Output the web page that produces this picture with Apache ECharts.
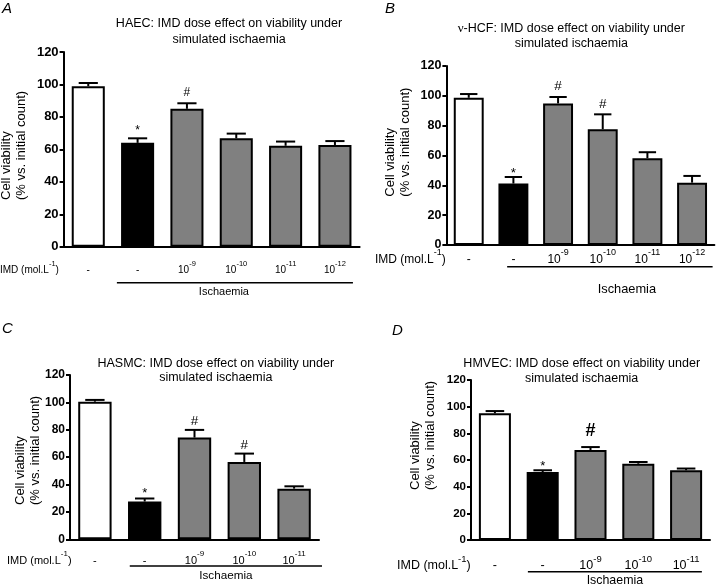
<!DOCTYPE html>
<html>
<head>
<meta charset="UTF-8">
<title>IMD dose effect on viability</title>
<script src="https://cdn.jsdelivr.net/npm/echarts@6/dist/echarts.min.js"></script>
<style>
  html, body { margin: 0; padding: 0; background: #fff; }
  #main { width: 720px; height: 584px; }
</style>
</head>
<body>
<div id="main"></div>
<script>
// ---- values ----
var catsA = ['-', '-', '10^-9', '10^-10', '10^-11', '10^-12'];
var valsA = [98.9, 64, 85, 66.8, 62.2, 62.7];
var errA = [2, 2.8, 3.4, 2.9, 2.6, 2.4];
var marksA = ['', '*', '#', '', '', ''];

var catsB = ['-', '-', '10^-9', '10^-10', '10^-11', '10^-12'];
var valsB = [98.7, 41.2, 94.9, 77.6, 58.2, 41.8];
var errB = [2.5, 4.4, 4.3, 10, 4, 4.5];
var marksB = ['', '*', '#', '#', '', ''];

var catsC = ['-', '-', '10^-9', '10^-10', '10^-11'];
var valsC = [100.5, 27.6, 74.3, 56.5, 37];
var errC = [1.3, 2.2, 5.6, 6.1, 1.7];
var marksC = ['', '*', '#', '#', ''];

var catsD = ['-', '-', '10^-9', '10^-10', '10^-11'];
var valsD = [95, 51, 67.5, 57.2, 52.3];
var errD = [1.7, 1.3, 2.2, 1.3, 1.3];
var marksD = ['', '*', '#', '', ''];

var yTicks = [0, 20, 40, 60, 80, 100, 120];
var barColors = ['#ffffff', '#000000', '#808080', '#808080', '#808080', '#808080'];

var titleA = 'HAEC: IMD dose effect on viability under\nsimulated ischaemia';
var titleB = '{g|ν}-HCF: IMD dose effect on viability under\nsimulated ischaemia';
var titleC = 'HASMC: IMD dose effect on viability under\nsimulated ischaemia';
var titleD = 'HMVEC: IMD dose effect on viability under\nsimulated ischaemia';
var yName = 'Cell viability\n(% vs. initial count)';

// ---- layout per panel (pixels) ----
var FONT = 'Liberation Sans, Arial, Helvetica, sans-serif';

var layA = {grid: {left: 63.6, top: 52, width: 296, height: 194.7}, barFrac: 0.67,
  tickFont: 13, catFont: 10, supFont: 7.5, labelMargin: 13,
  letter: [2, 1], title: [229, 31.3, 16], yName: [14, 200], imdX: 0,
  line: [-0.42, 0.365, 36], ischDy: 9, ischFont: 11, ischDx: -11,
  markSize: 12, starGap: 10, hashGap: 10.5, hashSize: 12, hashBold: false};
var layB = {grid: {left: 446.4, top: 66, width: 268, height: 179}, barFrac: 0.67,
  tickFont: 12.5, catFont: 12, supFont: 9, labelMargin: 3,
  letter: [385, 1], title: [571.3, 35.8, 15], yName: [398, 196.7], imdX: 375,
  line: [-0.14, 0.46, 21.7], ischDy: 22.6, ischFont: 12.8, ischDx: 17,
  markSize: 13.5, starGap: 7, hashGap: 10.5, hashSize: 13.5, hashBold: false};
var layC = {grid: {left: 70, top: 375, width: 249, height: 164.3}, barFrac: 0.67,
  tickFont: 12, catFont: 11, supFont: 8, labelMargin: 10.5,
  letter: [2, 321], title: [215.8, 370.3, 14], yName: [27.5, 505], imdX: 7,
  line: [-0.30, 0.56, 26.7], ischDy: 10, ischFont: 11.7, ischDx: 0,
  markSize: 13, starGap: 7.7, hashGap: 8.3, hashSize: 13.5, hashBold: false};
var layD = {grid: {left: 471, top: 380, width: 239, height: 160}, barFrac: 0.67,
  tickFont: 11.5, catFont: 12.5, supFont: 9.5, labelMargin: 14,
  letter: [392, 323], title: [581.7, 370.8, 15], yName: [423, 490], imdX: 397,
  line: [-0.31, 0.33, 31.7], ischDy: 9, ischFont: 12.4, ischDx: 0,
  markSize: 13, starGap: 6.6, hashGap: 16, hashSize: 18, hashBold: true};

var panels = [
  {cats: catsA, vals: valsA, err: errA, marks: marksA, title: titleA, letter: 'A', lay: layA},
  {cats: catsB, vals: valsB, err: errB, marks: marksB, title: titleB, letter: 'B', lay: layB},
  {cats: catsC, vals: valsC, err: errC, marks: marksC, title: titleC, letter: 'C', lay: layC},
  {cats: catsD, vals: valsD, err: errD, marks: marksD, title: titleD, letter: 'D', lay: layD}
];

// "10^-9" -> 10 with a raised -9
function supText(s) {
  var p = s.split('^');
  return p.length > 1 ? '{b|' + p[0] + '}{s|' + p[1] + '}' : '{b|' + s + '}';
}
function supRich(L, key) {
  var r = {b: {fontSize: L.catFont, lineHeight: L.catFont + 6, verticalAlign: 'bottom', fontFamily: FONT},
           s: {fontSize: L.supFont, lineHeight: L.supFont, verticalAlign: 'top', fontFamily: FONT}};
  r.b[key] = '#000'; r.s[key] = '#000';
  return r;
}

// error bar (upper half only) + significance mark
function makeErr(p) {
  var L = p.lay;
  return function (params, api) {
    var i = api.value(0), v = api.value(1), e = api.value(2);
    var b = api.coord([i, v]), t = api.coord([i, v + e]);
    var cw = api.size([1, 0])[0] * L.barFrac * 0.58;
    var kids = [
      {type: 'line', shape: {x1: b[0], y1: b[1], x2: t[0], y2: t[1]}, style: {stroke: '#000', lineWidth: 2}},
      {type: 'line', shape: {x1: t[0] - cw / 2, y1: t[1], x2: t[0] + cw / 2, y2: t[1]}, style: {stroke: '#000', lineWidth: 2}}
    ];
    var m = p.marks[params.dataIndex];
    if (m) {
      var star = m === '*';
      var fs = star ? L.markSize : L.hashSize;
      var gap = star ? L.starGap : L.hashGap;
      kids.push({type: 'text', style: {
        text: m, x: t[0], y: t[1] - gap + (star ? 0.22 * fs : 0),
        align: 'center', verticalAlign: 'middle', fontSize: fs,
        fontWeight: (!star && L.hashBold) ? 'bold' : 'normal', fontFamily: FONT, fill: '#000'}});
    }
    return {type: 'group', children: kids};
  };
}

var chart = echarts.init(document.getElementById('main'));
var option = {
  animation: false,
  textStyle: {fontFamily: FONT, color: '#000'},
  grid: [], xAxis: [], yAxis: [], series: []
};

panels.forEach(function (p, k) {
  var L = p.lay;
  option.grid.push({left: L.grid.left, top: L.grid.top, width: L.grid.width, height: L.grid.height,
    containLabel: false, outerBoundsMode: 'none'});
  option.xAxis.push({
    type: 'category', gridIndex: k, data: p.cats,
    axisLine: {lineStyle: {color: '#000', width: 2}},
    axisTick: {alignWithLabel: true, length: 4, lineStyle: {color: '#000', width: 1.5}},
    axisLabel: {interval: 0, margin: L.labelMargin, formatter: supText, rich: supRich(L, 'color')},
    splitLine: {show: false}
  });
  option.yAxis.push({
    type: 'value', gridIndex: k,
    min: yTicks[0], max: yTicks[yTicks.length - 1], interval: yTicks[1] - yTicks[0],
    axisLine: {show: true, lineStyle: {color: '#000', width: 2}},
    axisTick: {show: true, length: 4, lineStyle: {color: '#000', width: 2}},
    axisLabel: {fontSize: L.tickFont, fontWeight: 'bold', color: '#000', margin: 5},
    splitLine: {show: false}
  });
  option.series.push({
    type: 'bar', xAxisIndex: k, yAxisIndex: k, silent: true,
    barWidth: (L.barFrac * 100) + '%',
    itemStyle: {borderColor: '#000', borderWidth: 2},
    data: p.vals.map(function (v, i) { return {value: v, itemStyle: {color: barColors[i]}}; })
  });
  option.series.push({
    type: 'custom', xAxisIndex: k, yAxisIndex: k, silent: true, z: 5,
    encode: {x: 0, y: 1},
    data: p.vals.map(function (v, i) { return [i, v, p.err[i]]; }),
    renderItem: makeErr(p)
  });
});

chart.setOption(option);

// texts and the "Ischaemia" bracket, placed from the axes
var g = [];
panels.forEach(function (p, k) {
  var L = p.lay;
  var n = p.cats.length;
  var px = function (i) { return chart.convertToPixel({gridIndex: k}, [i, 0]); };
  var band = px(1)[0] - px(0)[0];
  var axisY = px(0)[1];

  g.push({type: 'text', x: L.letter[0], y: L.letter[1],
    style: {text: p.letter, fontSize: 15, fontStyle: 'italic', fontFamily: FONT, fill: '#000', verticalAlign: 'top'}});
  g.push({type: 'text', x: L.title[0], y: L.title[1],
    style: {text: p.title, fontSize: 12.5, lineHeight: L.title[2], fontFamily: FONT, fill: '#000',
      align: 'center', verticalAlign: 'middle',
      rich: {g: {fontSize: 13, fontFamily: 'Liberation Serif, Times New Roman, serif', fill: '#000'}}}});
  g.push({type: 'text', x: L.yName[0], y: L.yName[1], rotation: Math.PI / 2,
    style: {text: yName, fontSize: 13, lineHeight: 15, fontFamily: FONT, fill: '#000',
      align: 'left', verticalAlign: 'middle'}});

  var rowY = axisY + L.labelMargin + (L.catFont + 6) / 2;
  g.push({type: 'text', x: L.imdX, y: rowY,
    style: {text: '{b|IMD (mol.L}{s|-1}{b|)}', rich: supRich(L, 'fill'), align: 'left', verticalAlign: 'middle'}});

  var x1 = px(1)[0] + L.line[0] * band;
  var x2 = px(n - 1)[0] + L.line[1] * band;
  var ly = axisY + L.line[2];
  g.push({type: 'line', shape: {x1: x1, y1: ly, x2: x2, y2: ly}, style: {stroke: '#000', lineWidth: 1.5}});
  g.push({type: 'text', x: (x1 + x2) / 2 + L.ischDx, y: ly + L.ischDy,
    style: {text: 'Ischaemia', fontSize: L.ischFont, fontFamily: FONT, fill: '#000',
      align: 'center', verticalAlign: 'middle'}});
});
chart.setOption({graphic: g});
</script>
</body>
</html>
